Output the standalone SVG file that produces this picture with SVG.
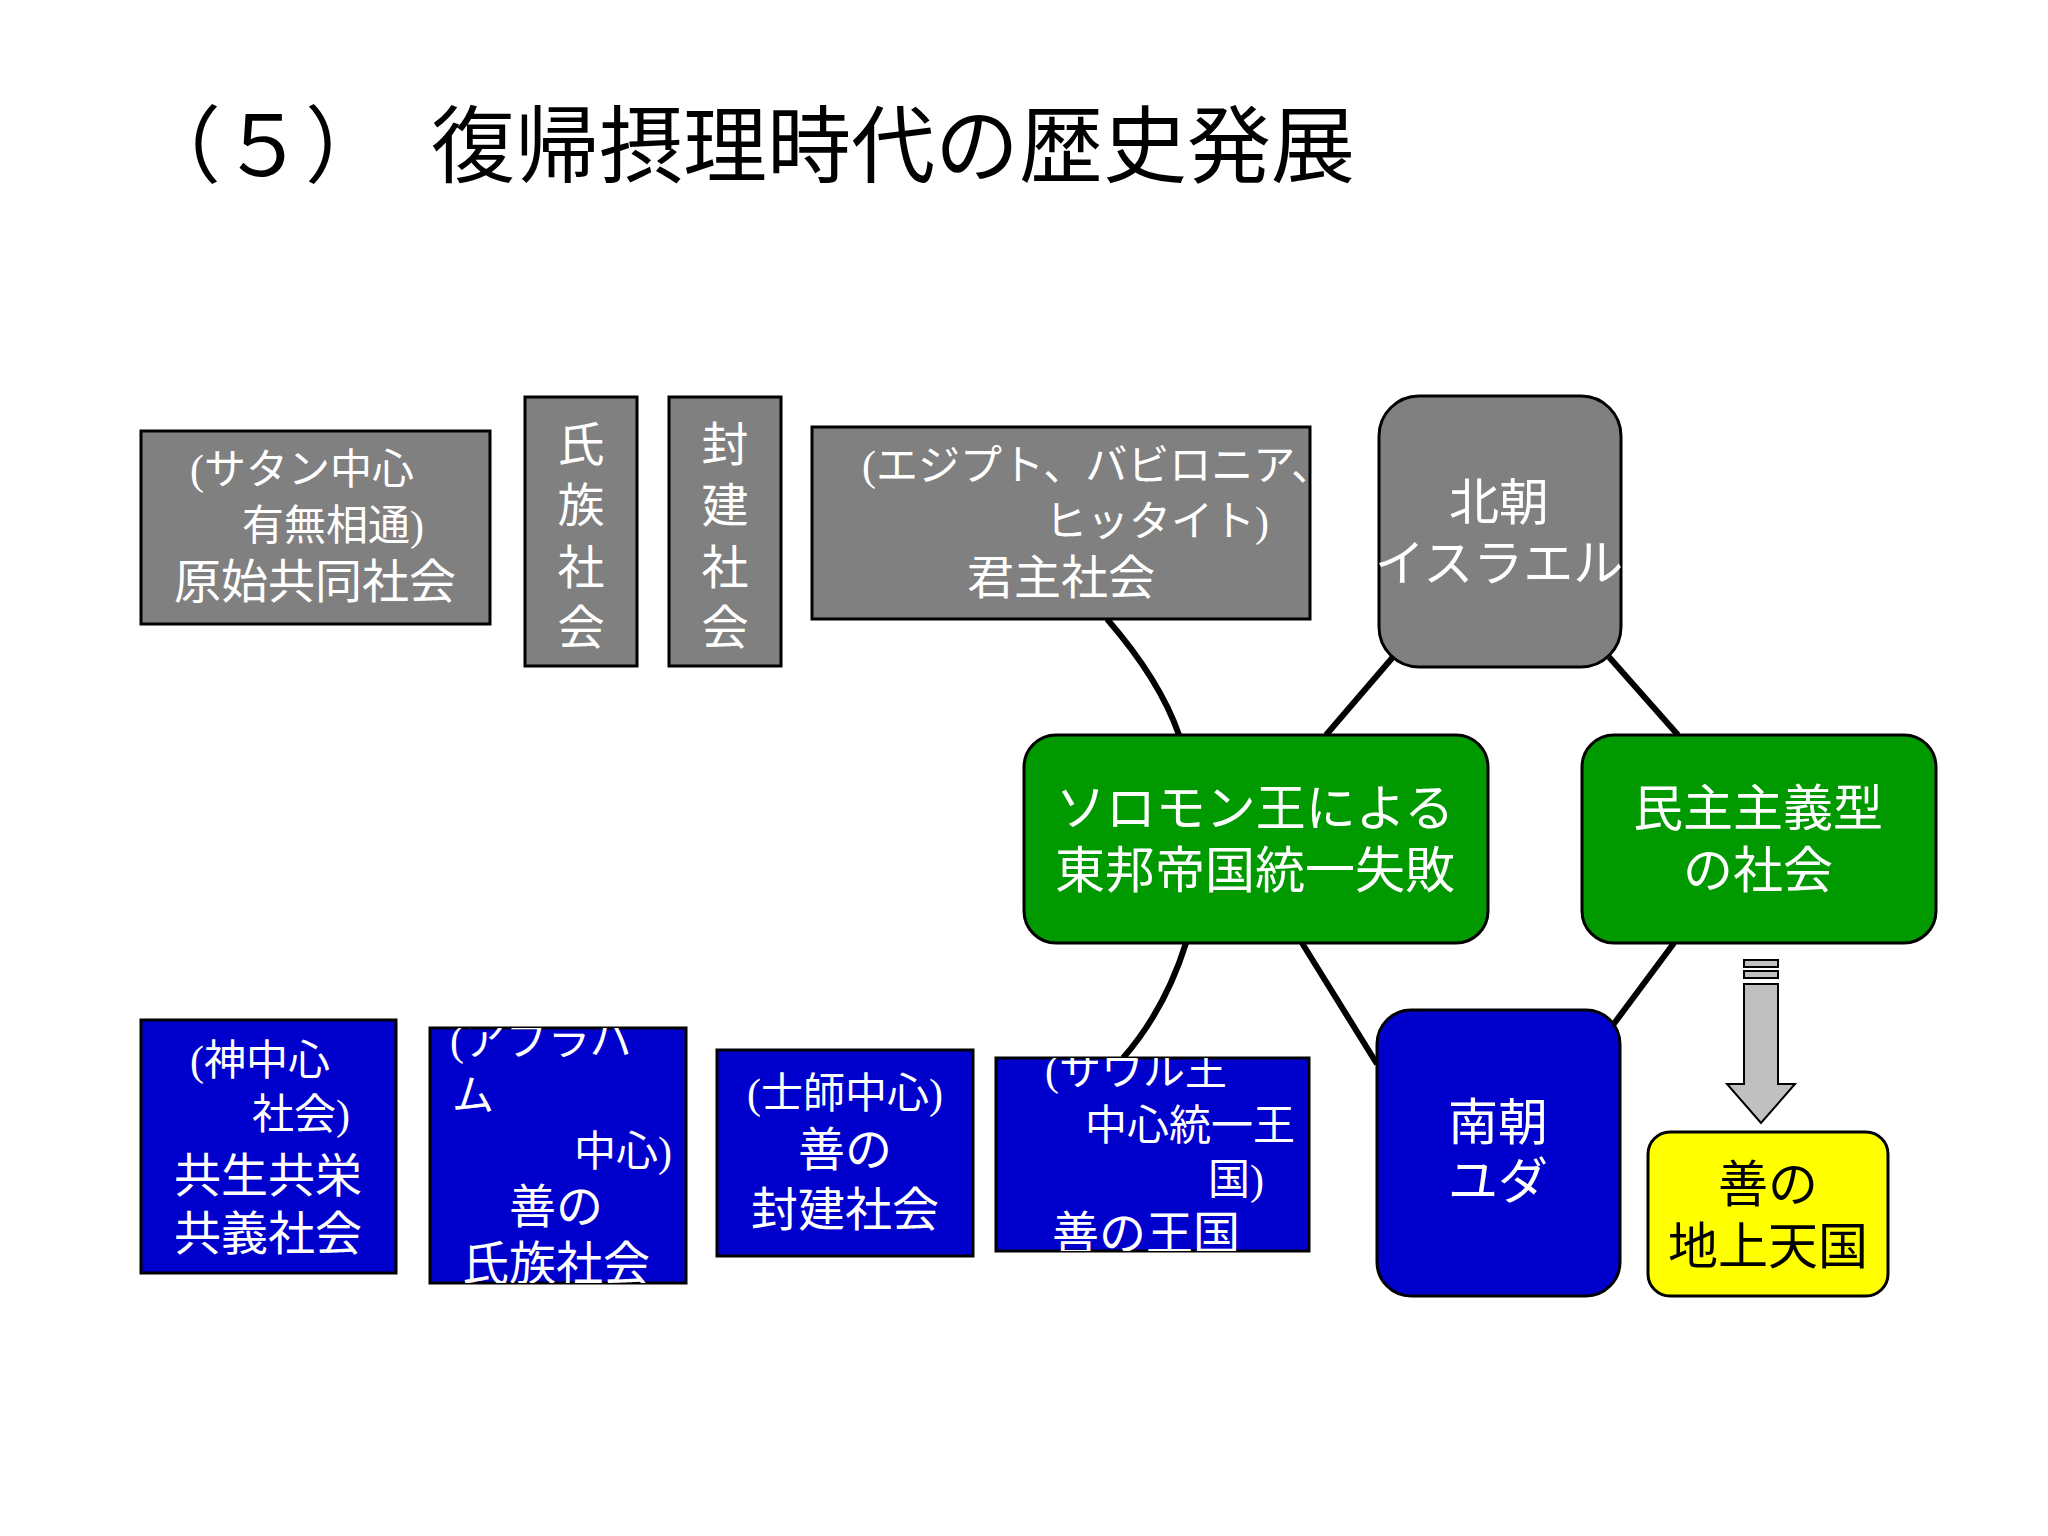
<svg xmlns="http://www.w3.org/2000/svg" width="2048" height="1536" viewBox="0 0 2048 1536">
<style>
text{font-family:"Liberation Serif","Noto Sans CJK JP",serif;fill:#fff}
.t{fill:#000;font-size:84px}
.g{fill:#808080;stroke:#000;stroke-width:3}
.b{fill:#0000cc;stroke:#000;stroke-width:3}
.gr{fill:#009900;stroke:#000;stroke-width:3}
.s{font-size:42px}
.m{font-size:47px}
.l{font-size:50px}
.c{text-anchor:middle}
.k{fill:#000;font-size:50px}
.cn path{fill:none;stroke:#000;stroke-width:6}
</style>
<defs>
<clipPath id="c2"><rect x="430" y="1028" width="256" height="255"/></clipPath>
<clipPath id="c4"><rect x="996" y="1058" width="313" height="193"/></clipPath>
</defs>
<rect width="2048" height="1536" fill="#fff"/>
<text class="t" x="137" y="176">（５）　復帰摂理時代の歴史発展</text>
<g class="cn">
<path d="M1107,619 Q1160,680 1179,735"/>
<path d="M1393,657 L1326,735"/>
<path d="M1609,657 L1678,735"/>
<path d="M1186,943 Q1165,1010 1123,1058"/>
<path d="M1302,943 L1377,1064"/>
<path d="M1674,943 L1613,1025"/>
</g>
<g id="n1"><rect class="g" x="141" y="431" width="349" height="193"/>
<text class="s" x="190" y="484">(サタン中心</text><text class="s" x="242" y="540">有無相通)</text><text class="m c" x="315" y="598">原始共同社会</text></g>
<g id="n2"><rect class="g" x="525" y="397" width="112" height="269"/>
<text class="m c" x="581" y="461">氏</text><text class="m c" x="581" y="522">族</text><text class="m c" x="581" y="584">社</text><text class="m c" x="581" y="644">会</text></g>
<g id="n3"><rect class="g" x="669" y="397" width="112" height="269"/>
<text class="m c" x="725" y="461">封</text><text class="m c" x="725" y="522">建</text><text class="m c" x="725" y="584">社</text><text class="m c" x="725" y="644">会</text></g>
<g id="n4"><rect class="g" x="812" y="427" width="498" height="192"/>
<text class="s" x="862" y="480">(エジプト、バビロニア、</text><text class="s" x="1045" y="536">ヒッタイト)</text><text class="m c" x="1061" y="594">君主社会</text></g>
<g id="n5"><rect class="g" x="1379" y="396" width="242" height="271" rx="40"/>
<text class="l c" x="1499" y="520">北朝</text><text class="l c" x="1499" y="581">イスラエル</text></g>
<g id="n6"><rect class="gr" x="1024" y="735" width="464" height="208" rx="32"/>
<text class="l c" x="1255" y="826">ソロモン王による</text><text class="l c" x="1255" y="888">東邦帝国統一失敗</text></g>
<g id="n7"><rect class="gr" x="1582" y="735" width="354" height="208" rx="32"/>
<text class="l c" x="1758" y="826">民主主義型</text><text class="l c" x="1758" y="888">の社会</text></g>
<g id="n8"><rect class="b" x="1377" y="1010" width="243" height="286" rx="34"/>
<text class="l c" x="1498" y="1140">南朝</text><text class="l c" x="1498" y="1199">ユダ</text></g>
<g id="n9"><rect x="1648" y="1132" width="240" height="164" rx="22" fill="#ffff00" stroke="#000" stroke-width="3"/>
<text class="k c" x="1768" y="1202">善の</text><text class="k c" x="1768" y="1264">地上天国</text></g>
<g id="arrow">
<rect x="1744" y="960" width="34" height="7" fill="#c0c0c0" stroke="#000" stroke-width="2"/>
<rect x="1744" y="971" width="34" height="7" fill="#c0c0c0" stroke="#000" stroke-width="2"/>
<path d="M1744,984 H1778 V1084 H1795 L1761,1123 L1727,1084 H1744 Z" fill="#c0c0c0" stroke="#000" stroke-width="2"/>
</g>
<g id="b1"><rect class="b" x="141" y="1020" width="255" height="253"/>
<text class="s" x="190" y="1075">(神中心</text><text class="s" x="252" y="1129">社会)</text><text class="m c" x="268" y="1192">共生共栄</text><text class="m c" x="268" y="1250">共義社会</text></g>
<g id="b2"><rect class="b" x="430" y="1028" width="256" height="255"/>
<g clip-path="url(#c2)"><text class="s" x="450" y="1055">(アブラハ</text><text class="s" x="452" y="1110">ム</text><text class="s" x="574" y="1166">中心)</text><text class="m c" x="556" y="1223">善の</text><text class="m c" x="556" y="1280">氏族社会</text></g></g>
<g id="b3"><rect class="b" x="717" y="1050" width="256" height="206"/>
<text class="s c" x="845" y="1108">(士師中心)</text><text class="m c" x="845" y="1166">善の</text><text class="m c" x="845" y="1226">封建社会</text></g>
<g id="b4"><rect class="b" x="996" y="1058" width="313" height="193"/>
<g clip-path="url(#c4)"><text class="s" x="1045" y="1085">(サウル王</text><text class="s" x="1085" y="1140">中心統一王</text><text class="s" x="1208" y="1194">国)</text><text class="m" x="1052" y="1250">善の王国</text></g></g>
</svg>
